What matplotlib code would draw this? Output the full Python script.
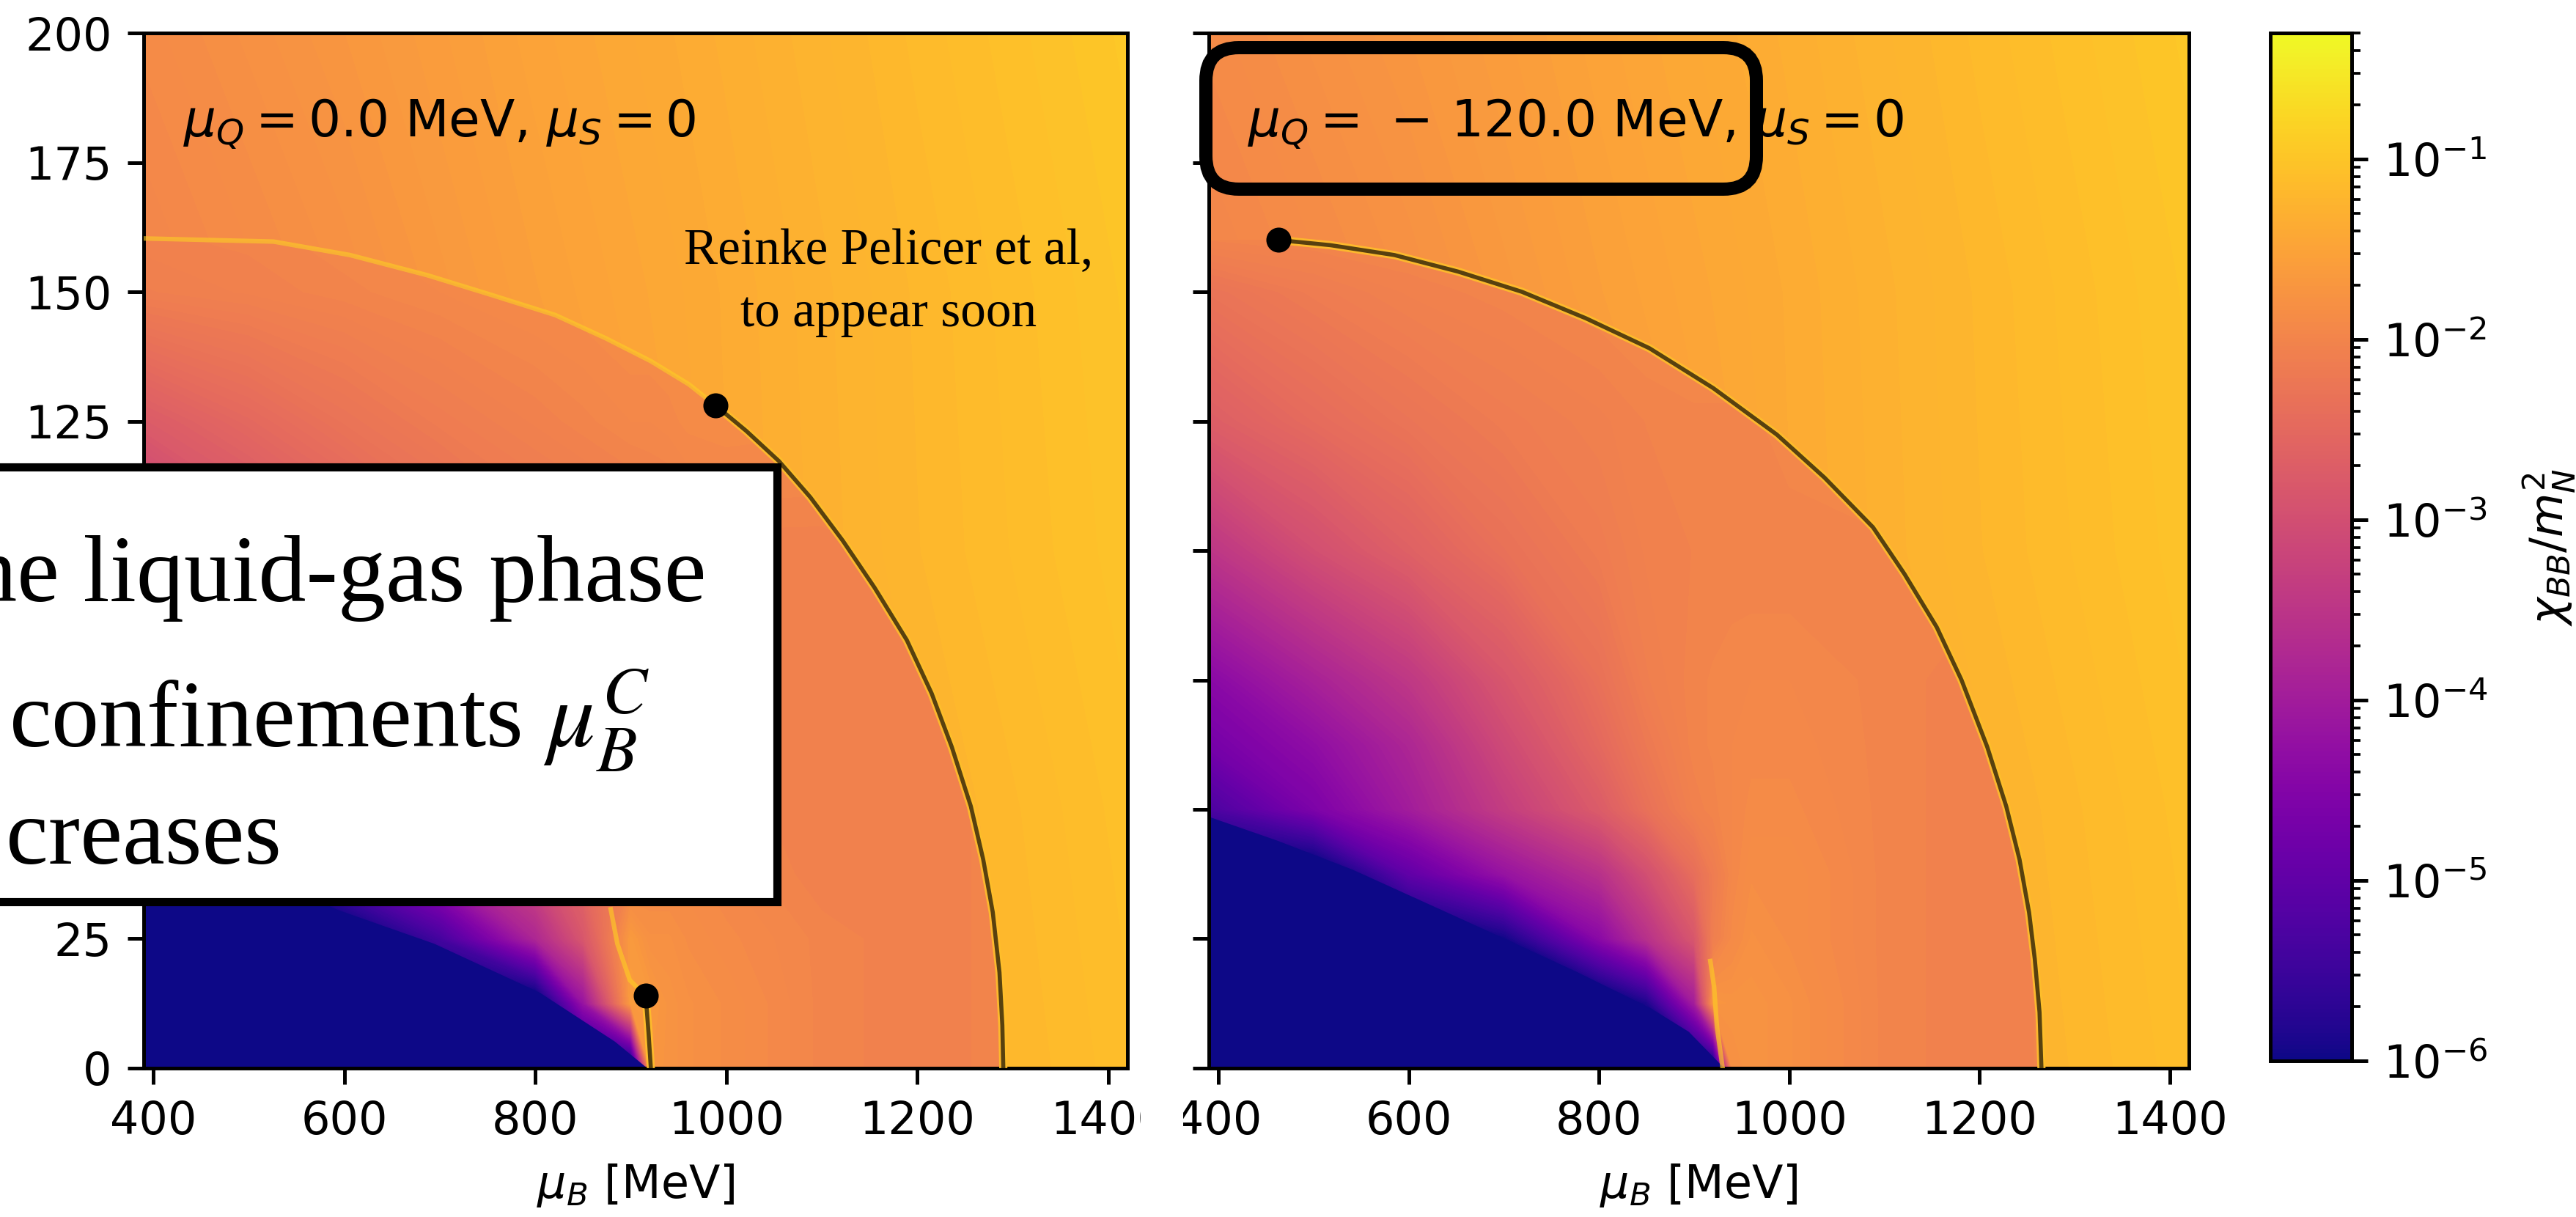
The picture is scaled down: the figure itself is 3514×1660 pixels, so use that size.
import numpy as np
import matplotlib
matplotlib.use("Agg")
import matplotlib.pyplot as plt
from matplotlib.colors import Normalize, LogNorm
from matplotlib.cm import ScalarMappable
from matplotlib.patches import Polygon, Rectangle, FancyBboxPatch
from matplotlib.transforms import IdentityTransform, Bbox

W, H, DPI = 3514, 1660, 446

# colour scale of chi_BB / m_N^2 (log10)
CHI_MIN, CHI_MAX = 1e-6, 0.5
LOG_MIN, LOG_MAX = np.log10(CHI_MIN), np.log10(CHI_MAX)

# field above / right of the transition lines
mu_B_outer = [390, 600, 800, 1000, 1200, 1420]
T_outer = [0, 50, 100, 150, 200]
logchi_outer = [
    [-2.20, -2.00, -1.80, -1.55, -1.27, -1.10],
    [-2.20, -2.00, -1.80, -1.53, -1.25, -1.07],
    [-2.10, -1.90, -1.70, -1.38, -1.20, -1.03],
    [-2.00, -1.80, -1.56, -1.37, -1.19, -1.01],
    [-1.90, -1.70, -1.50, -1.33, -1.15, -0.97],
]

# field below the transition lines
mu_B_inner = [390, 500, 600, 700, 800, 850, 900, 920, 940, 960, 1000, 1100, 1200, 1300, 1420]

T_inner_q0 = [0, 12.5, 25, 37.5, 50, 75, 100, 125, 150, 175, 200]
logchi_inner_q0 = [
    [-6.5, -6.5, -6.5, -6.5, -6.5, -6.5, -6.5, -1.70, -1.75, -1.80, -1.85, -2.00, -2.05, -2.00, -2.00],
    [-6.5, -6.5, -6.5, -6.5, -6.5, -4.2, -1.60, -1.65, -1.75, -1.80, -1.85, -2.00, -2.05, -2.00, -2.00],
    [-6.5, -6.5, -6.5, -5.4, -3.8, -2.85, -1.65, -1.80, -1.80, -1.85, -1.90, -2.00, -2.05, -2.00, -2.00],
    [-6.5, -6.0, -5.0, -4.0, -3.1, -2.5, -2.00, -1.90, -1.90, -1.90, -1.95, -2.05, -2.05, -2.00, -2.00],
    [-6.0, -5.3, -4.3, -3.3, -2.6, -2.35, -2.15, -2.10, -2.05, -2.00, -2.00, -2.05, -2.05, -2.00, -2.00],
    [-5.0, -4.3, -3.6, -3.0, -2.5, -2.30, -2.20, -2.15, -2.10, -2.05, -2.05, -2.05, -2.05, -2.00, -2.00],
    [-3.5, -3.0, -2.7, -2.45, -2.25, -2.20, -2.15, -2.10, -2.10, -2.05, -2.05, -2.05, -2.00, -1.95, -1.95],
    [-2.75, -2.5, -2.3, -2.15, -2.05, -2.00, -1.95, -1.95, -1.93, -1.90, -1.88, -1.90, -1.90, -1.90, -1.90],
    [-2.10, -2.05, -2.0, -1.95, -1.90, -1.88, -1.85, -1.85, -1.85, -1.85, -1.85, -1.85, -1.85, -1.85, -1.85],
    [-1.95, -1.95, -1.9, -1.90, -1.85, -1.85, -1.85, -1.85, -1.85, -1.85, -1.85, -1.85, -1.85, -1.85, -1.85],
    [-1.90, -1.90, -1.9, -1.85, -1.85, -1.85, -1.85, -1.85, -1.85, -1.85, -1.85, -1.85, -1.85, -1.85, -1.85],
]

T_inner_q120 = [0, 12.5, 25, 37.5, 50, 62.5, 75, 100, 125, 150, 175, 200]
logchi_inner_q120 = [
    [-6.5, -6.5, -6.5, -6.5, -6.5, -6.5, -6.5, -6.5, -1.80, -1.75, -1.80, -2.00, -2.05, -2.00, -2.00],
    [-6.5, -6.5, -6.5, -6.5, -6.5, -5.9, -4.0, -1.70, -1.75, -1.75, -1.80, -2.00, -2.05, -2.00, -2.00],
    [-6.5, -6.5, -6.5, -6.0, -4.4, -3.6, -2.85, -2.10, -1.90, -1.80, -1.85, -2.00, -2.05, -2.00, -2.00],
    [-6.5, -6.5, -5.0, -4.2, -3.6, -3.0, -2.4, -2.15, -1.95, -1.85, -1.85, -2.00, -2.05, -2.00, -2.00],
    [-5.3, -4.6, -4.0, -3.35, -2.75, -2.35, -2.05, -2.00, -1.95, -1.90, -1.90, -2.00, -2.05, -2.00, -2.00],
    [-4.7, -4.3, -3.8, -3.1, -2.5, -2.2, -2.0, -1.98, -1.95, -1.93, -1.93, -2.00, -2.05, -2.00, -2.00],
    [-4.4, -3.9, -3.45, -2.85, -2.35, -2.1, -2.0, -1.98, -1.96, -1.95, -1.95, -2.00, -2.05, -2.00, -2.00],
    [-3.5, -3.0, -2.65, -2.35, -2.15, -2.05, -2.02, -2.02, -2.02, -2.02, -2.02, -2.00, -2.00, -2.00, -2.00],
    [-2.7, -2.45, -2.28, -2.15, -2.07, -2.02, -2.0, -2.0, -2.00, -2.00, -1.95, -1.90, -1.90, -1.90, -1.90],
    [-2.30, -2.15, -2.05, -2.0, -1.95, -1.92, -1.9, -1.9, -1.90, -1.90, -1.90, -1.90, -1.90, -1.90, -1.90],
    [-1.60, -1.75, -1.85, -1.9, -1.90, -1.90, -1.9, -1.9, -1.90, -1.90, -1.90, -1.90, -1.90, -1.90, -1.90],
    [-1.60, -1.75, -1.85, -1.9, -1.90, -1.90, -1.9, -1.9, -1.90, -1.90, -1.90, -1.90, -1.90, -1.90, -1.90],
]

# edge of the chi < 1e-6 (vacuum) region
vac_q0_mu = [384, 592, 694, 804, 883, 914, 918]
vac_q0_T = [49.0, 30.7, 24.1, 14.7, 5.2, 0.5, 0]
vac_q120_mu = [384, 462, 541, 619, 698, 776, 854.5, 894, 929, 931]
vac_q120_T = [49.0, 44.0, 38.4, 31.9, 25.3, 18.7, 11.6, 7.1, 0.5, 0]

# transition lines, mu_Q = 0
crossover_q0_mu = [392, 526, 606, 687, 754, 821, 874, 921, 961, 989]
crossover_q0_T = [160.3, 159.7, 157.1, 153.2, 149.4, 145.5, 141.0, 136.6, 132.1, 128.0]
dc_q0_mu = [989, 1021, 1055, 1088, 1122, 1155, 1189, 1215, 1236, 1256, 1269, 1279, 1286, 1289, 1290]
dc_q0_T = [128.0, 123.1, 117.3, 110.3, 101.9, 92.9, 82.7, 72.4, 62.1, 50.6, 40.3, 30.1, 18.5, 8.3, 0]
lg_q0_mu = [915.6, 918.5, 921]
lg_q0_T = [14, 7, 0]
lg_streak_q0_mu = [879, 886, 899, 915.6]
lg_streak_q0_T = [30.7, 24.0, 17.0, 14.0]
cep_q0_mu = [989, 915.6]
cep_q0_T = [128, 14]

# transition lines, mu_Q = -120 MeV
dc_q120_mu = [463, 518, 585, 652, 719, 786, 853, 920, 987, 1037, 1088, 1121, 1155,
              1181, 1208, 1228, 1242, 1252, 1258, 1263, 1265]
dc_q120_T = [160.0, 159.0, 157.1, 153.9, 150.0, 144.9, 139.1, 131.4, 122.4, 114.1, 104.5, 95.5, 85.2,
             75.0, 62.1, 50.6, 40.3, 30.1, 21.1, 10.8, 0]
lg_streak_q120_mu = [930, 924, 921, 917]
lg_streak_q120_T = [0, 8.0, 15.7, 20.7]
cep_q120_mu = [463]
cep_q120_T = [160]

panel_titles = [r"$\mu_Q = 0.0$ MeV, $\mu_S = 0$", r"$\mu_Q =\,-\,120.0$ MeV, $\mu_S = 0$"]
x_ticks = [400, 600, 800, 1000, 1200, 1400]
y_ticks = [0, 25, 50, 75, 100, 125, 150, 175, 200]

cmap = plt.get_cmap("plasma")
norm = Normalize(LOG_MIN, LOG_MAX)
levels = np.linspace(LOG_MIN, LOG_MAX, 160)


def draw_panel(ax, T_rows, inner, edge_mu, edge_T, vac_mu, vac_T):
    ax.contourf(mu_B_outer, T_outer, logchi_outer, levels=levels, cmap=cmap,
                norm=norm, extend="both", antialiased=False, zorder=0)
    cs = ax.contourf(mu_B_inner, T_rows, inner, levels=levels, cmap=cmap,
                     norm=norm, extend="both", antialiased=False, zorder=1)
    # region enclosed by the transition line
    verts = [(375, edge_T[0])] + list(zip(edge_mu, edge_T))
    verts += [(edge_mu[-1], -5), (375, -5)]
    clip = Polygon(verts, closed=True, transform=ax.transData)
    cs.set_clip_path(clip)
    ax.fill_between(vac_mu, -5, vac_T, color=cmap(0.0), lw=0, zorder=2)
    ax.set_xlim(390, 1420)
    ax.set_ylim(0, 200)
    ax.set_xticks(x_ticks)
    ax.set_yticks(y_ticks)
    ax.set_xlabel(r"$\mu_B$ [MeV]")


def trans_line(ax, mu, T):
    ax.plot(mu, T, color=cmap(0.86), lw=1.8, alpha=0.9, zorder=3)
    ax.plot(mu, T, color="k", lw=0.9, alpha=0.65, zorder=4)


fig = plt.figure(figsize=(W / DPI, H / DPI), dpi=DPI)
ax_l = fig.add_axes([0.05578, 0.12229, 0.38190, 0.85060])
ax_r = fig.add_axes([0.46926, 0.12229, 0.38048, 0.85060])
cax = fig.add_axes([0.88133, 0.12831, 0.03159, 0.84458])

# left panel, mu_Q = 0
draw_panel(ax_l, T_inner_q0, logchi_inner_q0,
           crossover_q0_mu[:-1] + dc_q0_mu, crossover_q0_T[:-1] + dc_q0_T,
           vac_q0_mu, vac_q0_T)
ax_l.plot(crossover_q0_mu, crossover_q0_T, color=cmap(0.9), lw=1.0, alpha=0.6, zorder=3)
ax_l.plot(lg_streak_q0_mu, lg_streak_q0_T, color=cmap(0.88), lw=1.0, alpha=0.7, zorder=3)
trans_line(ax_l, dc_q0_mu, dc_q0_T)
trans_line(ax_l, lg_q0_mu, lg_q0_T)
ax_l.plot(cep_q0_mu, cep_q0_T, "o", color="k", ms=4.5, zorder=5)
ax_l.text(0.04, 0.9, panel_titles[0], transform=ax_l.transAxes, fontsize=11.2, zorder=6)
ax_l.text(1170, 155.4, "Reinke Pelicer et al,", ha="center", va="baseline",
          family="Liberation Serif", fontsize=11.2, zorder=6)
ax_l.text(1170, 143.3, "to appear soon", ha="center", va="baseline",
          family="Liberation Serif", fontsize=11.2, zorder=6)

# right panel, mu_Q = -120 MeV
draw_panel(ax_r, T_inner_q120, logchi_inner_q120, dc_q120_mu, dc_q120_T,
           vac_q120_mu, vac_q120_T)
ax_r.plot(lg_streak_q120_mu, lg_streak_q120_T, color=cmap(0.88), lw=1.0, alpha=0.7, zorder=3)
trans_line(ax_r, dc_q120_mu, dc_q120_T)
ax_r.plot(cep_q120_mu, cep_q120_T, "o", color="k", ms=4.5, zorder=5)
ax_r.text(0.04, 0.9, panel_titles[1], transform=ax_r.transAxes, fontsize=11.2, zorder=6)
ax_r.tick_params(labelleft=False)

# colorbar
sm = ScalarMappable(norm=LogNorm(CHI_MIN, CHI_MAX), cmap=cmap)
cb = fig.colorbar(sm, cax=cax)
cb.set_label(r"$\chi_{BB}/m_N^2$", labelpad=7)

# the slide cut the two panels apart
for lab in ax_l.get_xticklabels():
    lab.set_clip_box(Bbox([[0, 0], [1556, H]]))
    lab.set_clip_on(True)
for lab in ax_r.get_xticklabels():
    lab.set_clip_box(Bbox([[1614, 0], [W, H]]))
    lab.set_clip_on(True)

# slide overlays (pixel coordinates, origin bottom left)
px = IdentityTransform()
fig.add_artist(Rectangle((-30, H - 1230), 1090, 593, transform=px, fc="white",
                         ec="k", lw=1.8, zorder=10))
box_font = dict(family="Liberation Serif", fontsize=21, math_fontfamily="stix",
                va="baseline", transform=px, zorder=11)
fig.text(964, H - 820, "he liquid-gas phase", ha="right", **box_font)
fig.text(12, H - 1019, r"confinements $\mu_B^C$", ha="left", **box_font)
fig.text(384, H - 1178, "creases", ha="right", **box_font)
fig.add_artist(FancyBboxPatch((1645, H - 258), 751, 193, boxstyle="round,pad=0,rounding_size=45",
                              transform=px, fill=False, ec="k", lw=2.9, zorder=10))

fig.savefig("out.png", dpi=DPI)
